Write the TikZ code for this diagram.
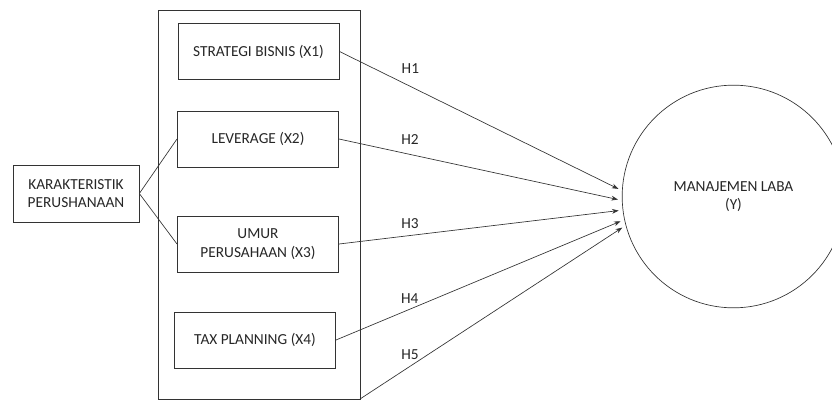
\documentclass[tikz,border=0pt]{standalone}
\usepackage{fontspec}
\setmainfont{Carlito}
\usetikzlibrary{arrows.meta,positioning}

\begin{document}
\begin{tikzpicture}[x=0.75pt,y=-0.75pt,>={Stealth[length=5pt,width=3.6pt]},
        line width=0.5pt,draw=black!80,
        every node/.style={font=\fontsize{11.5}{14}\selectfont,text=black!85},
        var/.style={draw,rectangle,minimum width=121pt,minimum height=42pt,
          align=center,inner sep=2pt},
        hyp/.style={inner sep=1pt},
        shorten >=3pt]
        \clip (0,0) rectangle (832,400);
        \useasboundingbox (0,0) rectangle (832,400);
        % kotak variabel independen
        \draw (158,10) rectangle (360,399);
        \coordinate (frame-se) at (360,399);
        \node[var]                                  at (258.5,51.5) (x1) {STRATEGI BISNIS (X1)};
        \node[var]                                  at (258,139)    (x2) {LEVERAGE (X2)};
        \node[var]                                  at (258,244)    (x3) {UMUR\\PERUSAHAAN (X3)};
        \node[var]                                  at (255,340)    (x4) {TAX PLANNING (X4)};
        \node[var,minimum width=94.5pt,minimum height=43pt] at (76,193.5) (kp) {KARAKTERISTIK\\PERUSHANAAN};
        % variabel dependen
        \node[draw,circle,minimum size=167pt,align=center,inner sep=0pt]
                                                    at (733.5,196.5) (y) {MANAJEMEN LABA\\(Y)};

        \draw[shorten >=0pt] (kp.east) -- (x2.west);
        \draw[shorten >=0pt] (kp.east) -- (x3.west);

        \draw[->] (x1.east)     -- (y.177)   node[hyp,pos=0.251,above=8.8pt] (h1) {H1};
        \draw[->] (x2.east)     -- (y.182.3) node[hyp,pos=0.251,above=6.5pt] (h2) {H2};
        \draw[->] (x3.east)     -- (y.187.5) node[hyp,pos=0.25,above=4pt]    (h3) {H3};
        \draw[->] (x4.east)     -- (y.192.7) node[hyp,pos=0.256,above=2.8pt] (h4) {H4};
        \draw[->] (frame-se)    -- (y.195.9) node[hyp,pos=0.188,above=3.5pt] (h5) {H5};
\end{tikzpicture}
\end{document}
